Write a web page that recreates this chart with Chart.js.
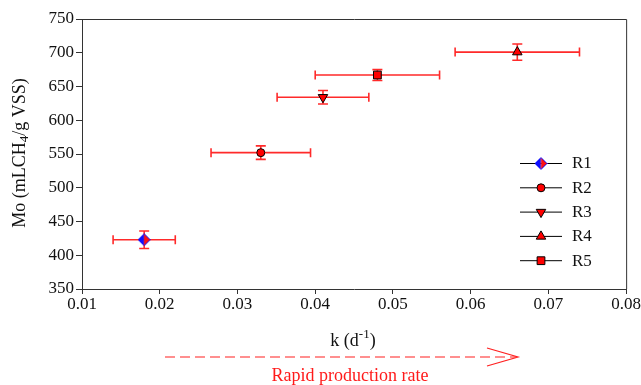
<!DOCTYPE html>
<html>
<head>
<meta charset="utf-8">
<script src="https://cdn.jsdelivr.net/npm/chart.js@4.4.1/dist/chart.umd.min.js"></script>
<style>
html,body{margin:0;padding:0;background:#fff;}
#wrap{width:641px;height:385px;position:relative;}
</style>
</head>
<body>
<div id="wrap"><canvas id="c" width="641" height="385"></canvas></div>
<script>
// ---- data ----
const seriesNames = ['R1', 'R2', 'R3', 'R4', 'R5'];
const kValues  = [0.018, 0.033, 0.041, 0.066, 0.048];
const kErrors  = [0.004, 0.0064, 0.0059, 0.008, 0.008];
const moValues = [423, 552, 634, 701, 667];
const moErrors = [13, 10, 10, 12, 8];
const xTicks = [0.01, 0.02, 0.03, 0.04, 0.05, 0.06, 0.07, 0.08];
const yTicks = [350, 400, 450, 500, 550, 600, 650, 700, 750];

const FONT = '"Liberation Serif", "Times New Roman", serif';
const ERR = '#ff2a2a';

// half blue / half red diamond for R1
function makeDiamond() {
  const s = 13, c = document.createElement('canvas');
  c.width = s; c.height = s;
  const g = c.getContext('2d');
  const m = s / 2;
  g.beginPath(); g.moveTo(m, 0.5); g.lineTo(0.5, m); g.lineTo(m, s - 0.5); g.closePath();
  g.fillStyle = '#1010ff'; g.fill();
  g.beginPath(); g.moveTo(m, 0.5); g.lineTo(s - 0.5, m); g.lineTo(m, s - 0.5); g.closePath();
  g.fillStyle = '#ff1010'; g.fill();
  g.beginPath(); g.moveTo(m, 0.5); g.lineTo(s - 0.5, m); g.lineTo(m, s - 0.5); g.lineTo(0.5, m); g.closePath();
  g.strokeStyle = '#1010ff'; g.lineWidth = 1; g.stroke();
  return c;
}
const diamond = makeDiamond();

const styles = [
  {pointStyle: diamond, radius: 6, rotation: 0},
  {pointStyle: 'circle', radius: 4, rotation: 0},
  {pointStyle: 'triangle', radius: 5.5, rotation: 180},
  {pointStyle: 'triangle', radius: 5.5, rotation: 0},
  {pointStyle: 'rect', radius: 5.5, rotation: 0}
];

const datasets = seriesNames.map((name, i) => ({
  label: name,
  data: [{x: kValues[i], y: moValues[i], xErr: kErrors[i], yErr: moErrors[i]}],
  pointStyle: styles[i].pointStyle,
  pointRadius: styles[i].radius,
  pointRotation: styles[i].rotation,
  backgroundColor: '#ff0000',
  borderColor: '#000000',
  pointBorderWidth: 1,
  showLine: false
}));

const errorBars = {
  id: 'errorBars',
  beforeDatasetsDraw(chart) {
    const ctx = chart.ctx, xs = chart.scales.x, ys = chart.scales.y;
    ctx.save();
    ctx.strokeStyle = ERR;
    ctx.lineWidth = 1.6;
    chart.data.datasets.forEach(ds => {
      ds.data.forEach(p => {
        const cx = xs.getPixelForValue(p.x), cy = ys.getPixelForValue(p.y);
        const x0 = xs.getPixelForValue(p.x - p.xErr), x1 = xs.getPixelForValue(p.x + p.xErr);
        const y0 = ys.getPixelForValue(p.y - p.yErr), y1 = ys.getPixelForValue(p.y + p.yErr);
        ctx.beginPath();
        ctx.moveTo(x0, cy); ctx.lineTo(x1, cy);
        ctx.moveTo(x0, cy - 4.5); ctx.lineTo(x0, cy + 4.5);
        ctx.moveTo(x1, cy - 4.5); ctx.lineTo(x1, cy + 4.5);
        ctx.moveTo(cx, y0); ctx.lineTo(cx, y1);
        ctx.moveTo(cx - 5, y0); ctx.lineTo(cx + 5, y0);
        ctx.moveTo(cx - 5, y1); ctx.lineTo(cx + 5, y1);
        ctx.stroke();
      });
    });
    ctx.restore();
  }
};

const decorations = {
  id: 'decorations',
  afterDraw(chart) {
    const ctx = chart.ctx, a = chart.chartArea;
    ctx.save();
    // frame top & right
    ctx.strokeStyle = '#333';
    ctx.lineWidth = 1;
    ctx.beginPath();
    ctx.moveTo(a.left, a.top + 0.5); ctx.lineTo(a.right + 0.5, a.top + 0.5); ctx.lineTo(a.right + 0.5, a.bottom);
    ctx.stroke();

    // legend
    const lx0 = 520, lx1 = 562, ltx = 572, ly0 = 163, ldy = 24.3;
    chart.data.datasets.forEach((ds, i) => {
      const y = ly0 + i * ldy;
      ctx.strokeStyle = '#000'; ctx.lineWidth = 1;
      ctx.beginPath(); ctx.moveTo(lx0, y + 0.5); ctx.lineTo(lx1, y + 0.5); ctx.stroke();
      ctx.fillStyle = ds.backgroundColor; ctx.strokeStyle = ds.borderColor;
      Chart.helpers.drawPoint(ctx, {pointStyle: ds.pointStyle, radius: ds.pointRadius, rotation: ds.pointRotation, borderWidth: 1}, (lx0 + lx1) / 2, y + 0.5);
      ctx.fillStyle = '#111';
      ctx.font = '17px ' + FONT;
      ctx.textBaseline = 'middle'; ctx.textAlign = 'left';
      ctx.fillText(ds.label, ltx, y + 1);
    });

    // y title with subscript
    ctx.save();
    ctx.translate(20, 153);
    ctx.rotate(-Math.PI / 2);
    ctx.fillStyle = '#111';
    ctx.textBaseline = 'middle'; ctx.textAlign = 'left';
    const p1 = 'Mo (mLCH', p2 = '4', p3 = '/g VSS)';
    ctx.font = '18px ' + FONT;
    const w1 = ctx.measureText(p1).width, w3 = ctx.measureText(p3).width;
    ctx.font = '13px ' + FONT;
    const w2 = ctx.measureText(p2).width;
    let sx = -(w1 + w2 + w3) / 2;
    ctx.font = '18px ' + FONT; ctx.fillText(p1, sx, 0); sx += w1;
    ctx.font = '13px ' + FONT; ctx.fillText(p2, sx, 5); sx += w2;
    ctx.font = '18px ' + FONT; ctx.fillText(p3, sx, 0);
    ctx.restore();

    // x title with superscript
    {
      const q1 = 'k (d', q2 = '-1', q3 = ')';
      ctx.fillStyle = '#111';
      ctx.textBaseline = 'middle'; ctx.textAlign = 'left';
      ctx.font = '18px ' + FONT;
      const v1 = ctx.measureText(q1).width, v3 = ctx.measureText(q3).width;
      ctx.font = '13px ' + FONT;
      const v2 = ctx.measureText(q2).width;
      let sx = 353 - (v1 + v2 + v3) / 2;
      ctx.font = '18px ' + FONT; ctx.fillText(q1, sx, 341); sx += v1;
      ctx.font = '13px ' + FONT; ctx.fillText(q2, sx, 335); sx += v2;
      ctx.font = '18px ' + FONT; ctx.fillText(q3, sx, 341);
    }

    // dashed arrow
    ctx.strokeStyle = '#ff2020';
    ctx.lineWidth = 1.2;
    ctx.setLineDash([10, 5]);
    ctx.beginPath(); ctx.moveTo(165, 357); ctx.lineTo(517, 357); ctx.stroke();
    ctx.setLineDash([]);
    ctx.beginPath();
    ctx.moveTo(487, 348); ctx.lineTo(518, 357); ctx.lineTo(487, 366);
    ctx.stroke();
    ctx.fillStyle = '#ff1a1a';
    ctx.textAlign = 'center'; ctx.textBaseline = 'middle';
    ctx.font = '18px ' + FONT;
    ctx.fillText('Rapid production rate', 350, 376);
    ctx.restore();
  }
};

new Chart(document.getElementById('c'), {
  type: 'scatter',
  data: {datasets},
  options: {
    responsive: false,
    animation: false,
    devicePixelRatio: 1,
    layout: {padding: {top: 19, right: 14, left: 0, bottom: 0}},
    plugins: {legend: {display: false}, tooltip: {enabled: false}},
    scales: {
      x: {
        type: 'linear', min: 0.01, max: 0.08,
        afterFit(s) { s.height = 96; },
        afterBuildTicks(s) { s.ticks = xTicks.map(v => ({value: v})); },
        grid: {display: true, drawOnChartArea: false, drawTicks: true, tickLength: 5, color: '#333'},
        border: {display: true, color: '#333', width: 1},
        ticks: {color: '#111', font: {family: FONT, size: 17}, padding: 0, maxRotation: 0,
          callback: v => v.toFixed(2)}
      },
      y: {
        type: 'linear', min: 350, max: 750,
        afterFit(s) { s.width = 82; },
        afterBuildTicks(s) { s.ticks = yTicks.map(v => ({value: v})); },
        grid: {display: true, drawOnChartArea: false, drawTicks: true, tickLength: 6, color: '#333'},
        border: {display: true, color: '#333', width: 1},
        ticks: {color: '#111', font: {family: FONT, size: 17}, padding: 2,
          callback: v => String(v)}
      }
    }
  },
  plugins: [errorBars, decorations]
});
</script>
</body>
</html>
